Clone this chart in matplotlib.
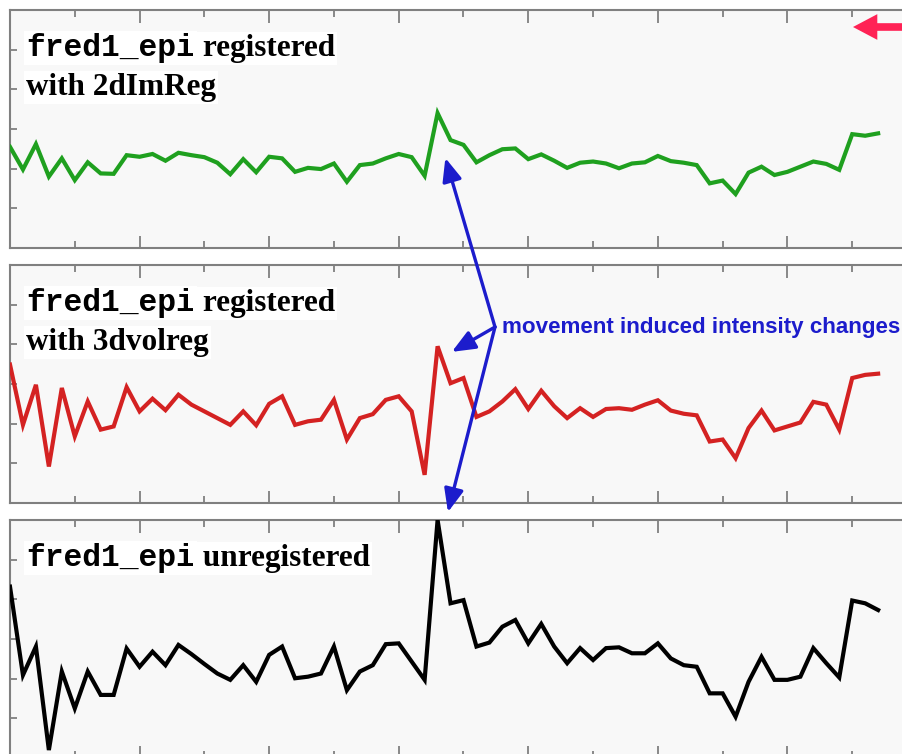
import matplotlib
matplotlib.use("Agg")
import matplotlib.pyplot as plt
import numpy as np

# ---------------- data (arbitrary intensity units, 68 time points) ----------------
green_2dimreg = [2.55, 1.98, 2.62, 1.80, 2.26, 1.71, 2.16, 1.88, 1.87, 2.34,
                 2.30, 2.37, 2.20, 2.40, 2.34, 2.29, 2.15, 1.86, 2.24, 1.91,
                 2.30, 2.26, 1.92, 2.02, 1.99, 2.13, 1.67, 2.09, 2.13, 2.26,
                 2.37, 2.29, 1.82, 3.40, 2.72, 2.60, 2.16, 2.34, 2.49, 2.51,
                 2.24, 2.36, 2.20, 2.02, 2.15, 2.18, 2.13, 2.01, 2.13, 2.16,
                 2.32, 2.19, 2.15, 2.09, 1.63, 1.70, 1.36, 1.90, 2.05, 1.84,
                 1.92, 2.05, 2.18, 2.12, 1.97, 2.87, 2.83, 2.89]

red_3dvolreg = [3.49, 1.97, 2.98, 0.92, 2.90, 1.68, 2.56, 1.85, 1.93, 2.92,
                2.31, 2.63, 2.34, 2.73, 2.48, 2.31, 2.14, 1.97, 2.31, 1.96,
                2.50, 2.69, 1.97, 2.06, 2.10, 2.60, 1.60, 2.14, 2.24, 2.60,
                2.69, 2.31, 0.71, 3.95, 3.02, 3.15, 2.17, 2.31, 2.56, 2.87,
                2.37, 2.83, 2.44, 2.14, 2.39, 2.17, 2.37, 2.39, 2.35, 2.48,
                2.59, 2.33, 2.25, 2.21, 1.55, 1.60, 1.13, 1.89, 2.33, 1.83,
                1.93, 2.03, 2.55, 2.48, 1.85, 3.15, 3.23, 3.26]

black_unreg = [4.32, 2.09, 2.81, 0.20, 2.18, 1.25, 2.18, 1.59, 1.59, 2.76,
               2.30, 2.68, 2.34, 2.85, 2.62, 2.37, 2.13, 1.97, 2.34, 1.92,
               2.60, 2.81, 2.01, 2.05, 2.13, 2.81, 1.71, 2.18, 2.34, 2.87,
               2.89, 2.43, 1.97, 6.00, 3.90, 3.98, 2.81, 2.91, 3.31, 3.48,
               2.89, 3.38, 2.81, 2.39, 2.77, 2.47, 2.77, 2.79, 2.64, 2.64,
               2.89, 2.51, 2.34, 2.30, 1.63, 1.63, 1.04, 1.92, 2.55, 1.97,
               1.97, 2.05, 2.77, 2.39, 2.03, 3.97, 3.90, 3.73]

panel_series = [green_2dimreg, red_3dvolreg, black_unreg]
panel_colors = ["#1fa01f", "#d42222", "#000000"]
panel_labels = [
    [("fred1_epi", " registered"), ("", "with 2dImReg")],
    [("fred1_epi", " registered"), ("", "with 3dvolreg")],
    [("fred1_epi", " unregistered")],
]
annotation_text = "movement induced intensity changes"

# ---------------- layout ----------------
W, H = 903, 754
fig = plt.figure(figsize=(W / 100, H / 100), dpi=100, facecolor="white")

panel_tops = [10, 265, 520]
panel_h = 238
ax_left_px, ax_right_px = 10, 917

axes = []
for top, ys, col in zip(panel_tops, panel_series, panel_colors):
    bottom = top + panel_h
    ax = fig.add_axes([ax_left_px / W, (H - bottom) / H,
                       (ax_right_px - ax_left_px) / W, panel_h / H])
    ax.set_facecolor("#f8f8f8")
    x = np.arange(len(ys))
    ax.plot(x, ys, color=col, lw=3.0, solid_joinstyle="miter", zorder=3)
    ax.set_xlim(0, 70)
    ax.set_ylim(0, 6)
    ax.set_xticks(np.arange(0, 71, 10))
    ax.set_xticks(np.arange(5, 71, 10), minor=True)
    ax.set_yticks([1, 2, 3, 4, 5])
    ax.tick_params(which="both", direction="in", top=True, bottom=True,
                   left=True, right=False, labelbottom=False, labelleft=False,
                   color="#808080", width=1.3)
    ax.tick_params(which="major", axis="x", length=9)
    ax.tick_params(which="minor", axis="x", length=5)
    ax.tick_params(axis="y", length=5)
    for s in ax.spines.values():
        s.set_color("#808080")
        s.set_linewidth(1.5)
    axes.append(ax)

# ---------------- panel labels ----------------
fs = 22.5
mono = dict(family="Liberation Mono", weight="bold", fontsize=fs)
serif = dict(family="Liberation Serif", weight="bold", fontsize=fs)
bbox = dict(facecolor="white", edgecolor="none", pad=1.5)
fig.canvas.draw()
renderer = fig.canvas.get_renderer()
baseline_offsets = [46, 85]
for top, lines in zip(panel_tops, panel_labels):
    for (mpart, spart), off in zip(lines, baseline_offsets):
        x0 = 26
        y0 = H - (top + off)
        if mpart:
            t = fig.text(x0 / W, y0 / H, mpart, va="baseline", ha="left",
                         color="black", bbox=bbox, **mono)
            ext = t.get_window_extent(renderer)
            x0 = ext.x1
        fig.text(x0 / W, y0 / H, spart, va="baseline", ha="left",
                 color="black", bbox=bbox, **serif)

# ---------------- blue annotation ----------------
blue = "#1c1ccc"
t = fig.text(502 / W, (H - 327) / H, annotation_text, color=blue,
             family="Liberation Sans", weight="bold", fontsize=16,
             va="center", ha="left")
w = t.get_window_extent(renderer).width
t.set_fontsize(16 * 398 / w)

junction = (495, H - 327)
ax1, ax2, ax3 = axes
tips = [(ax1.transData, (33.6, 2.27)),
        (ax2.transData, (34.1, 3.81)),
        (ax3.transData, (33.8, 6.2))]
for trans, xy in tips:
    ax3.annotate("", xy=xy, xycoords=trans, xytext=junction,
                 textcoords="figure pixels", annotation_clip=False,
                 arrowprops=dict(arrowstyle="-|>,head_length=1.0,head_width=0.42",
                                 color=blue, lw=2.4, shrinkA=0, shrinkB=0,
                                 mutation_scale=14))

# ---------------- pink arrow at top right ----------------
ax3.annotate("", xy=(853, H - 27), xycoords="figure pixels",
             xytext=(906, H - 27), textcoords="figure pixels",
             annotation_clip=False,
             arrowprops=dict(arrowstyle="simple,head_length=1.75,head_width=1.85,tail_width=0.55",
                             fc="#ff2255", ec="none", lw=0, shrinkA=0, shrinkB=0,
                             mutation_scale=10))

fig.savefig("out.png", dpi=100, facecolor="white")
